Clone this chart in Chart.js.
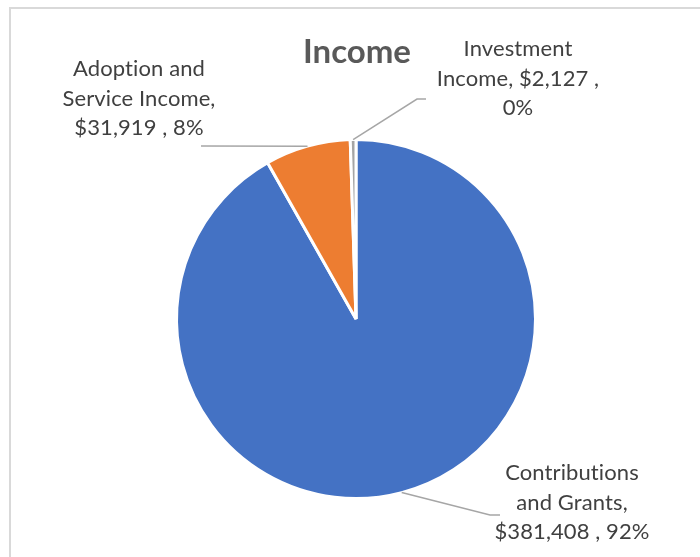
<!DOCTYPE html>
<html>
<head>
<meta charset="utf-8">
<script src="https://cdn.jsdelivr.net/npm/chart.js@4/dist/chart.umd.min.js"></script>
<style>
  html, body { margin: 0; padding: 0; background: #fff; }
  canvas { display: block; }
</style>
</head>
<body>
<canvas id="income-chart" width="700" height="557"></canvas>
<script>
// categories and values
const categories = ["Contributions and Grants", "Adoption and Service Income", "Investment Income"]
const amounts = [381408, 31919, 2127]
const sliceColors = ["#4472c4", "#ed7d31", "#a5a5a5"]

// label lines as shown in the picture
const labelLines = [
  ["Contributions", "and Grants,", "$381,408 , 92%"],
  ["Adoption and", "Service Income,", "$31,919 , 8%"],
  ["Investment", "Income, $2,127 ,", "0%"]
]

// where each label sits and where its leader line bends
const labelSpots = [
  { x: 572, y: 473, bend: [490, 515], end: [500, 515] },
  { x: 139, y: 69, bend: [201, 146], end: [201, 146] },
  { x: 518, y: 49, bend: [417, 99], end: [426, 99] }
]

const LINE_GAP = 29.5
const FONT = "Lato, 'Open Sans', sans-serif"

// draws the frame, title, labels and leader lines
const pieLabels = {
  id: "pieLabels",
  beforeDraw(chart) {
    const ctx = chart.ctx
    ctx.save()
    ctx.fillStyle = "#fff"
    ctx.fillRect(0, 0, chart.width, chart.height)
    ctx.strokeStyle = "#d9d9d9"
    ctx.lineWidth = 2
    ctx.beginPath()
    ctx.moveTo(10, chart.height + 5)
    ctx.lineTo(10, 8)
    ctx.lineTo(chart.width + 5, 8)
    ctx.stroke()
    ctx.restore()
  },
  afterDraw(chart) {
    const ctx = chart.ctx
    const arcs = chart.getDatasetMeta(0).data
    ctx.save()

    // title
    ctx.fillStyle = "#595959"
    ctx.font = "bold 33px " + FONT
    ctx.textAlign = "center"
    ctx.textBaseline = "middle"
    ctx.fillText("Income", 357, 52)

    // leader lines
    ctx.strokeStyle = "#a6a6a6"
    ctx.lineWidth = 1.5
    arcs.forEach((arc, i) => {
      const p = arc.getProps(["x", "y", "startAngle", "endAngle", "outerRadius"], true)
      const mid = (p.startAngle + p.endAngle) / 2
      const r = p.outerRadius
      const sx = p.x + Math.cos(mid) * r
      const sy = p.y + Math.sin(mid) * r
      const spot = labelSpots[i]
      ctx.beginPath()
      ctx.moveTo(sx, sy)
      ctx.lineTo(spot.bend[0], spot.bend[1])
      ctx.lineTo(spot.end[0], spot.end[1])
      ctx.stroke()
    })

    // labels (small letter spacing keeps "ti" from turning into a ligature)
    ctx.fillStyle = "#404040"
    ctx.font = "22px " + FONT
    ctx.letterSpacing = "0.1px"
    labelLines.forEach((lines, i) => {
      lines.forEach((line, j) => {
        ctx.fillText(line, labelSpots[i].x, labelSpots[i].y + j * LINE_GAP)
      })
    })
    ctx.restore()
  }
}

new Chart(document.getElementById("income-chart"), {
  type: "pie",
  data: {
    labels: categories,
    datasets: [{
      data: amounts,
      backgroundColor: sliceColors,
      borderColor: "#ffffff",
      borderWidth: 3
    }]
  },
  options: {
    responsive: false,
    animation: false,
    events: [],
    layout: {
      padding: { left: 175, right: 163, top: 138, bottom: 57 }
    },
    plugins: {
      legend: { display: false },
      tooltip: { enabled: false },
      title: { display: false }
    }
  },
  plugins: [pieLabels]
});
</script>
</body>
</html>
